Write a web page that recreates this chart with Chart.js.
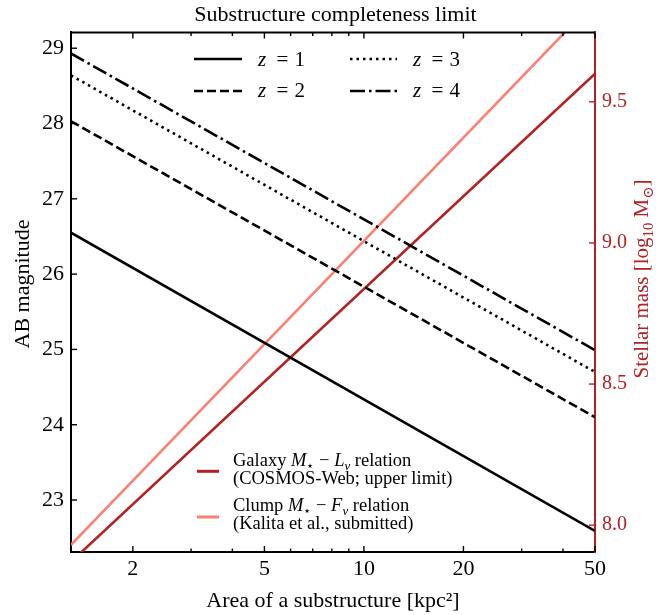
<!DOCTYPE html>
<html>
<head>
<meta charset="utf-8">
<script src="https://cdn.jsdelivr.net/npm/chart.js@4.4.1/dist/chart.umd.min.js"></script>
<style>
  html, body { margin: 0; padding: 0; background: #ffffff; }
  #wrap { width: 671px; height: 615px; }
</style>
</head>
<body>
<div id="wrap"><canvas id="c" width="671" height="615"></canvas></div>
<script>
// Substructure area (kpc^2) at the two ends of each straight relation on the log axis
const areaKpc2 = [1.3, 50];

// AB magnitude limit per redshift
const magZ1 = [26.55, 22.59];
const magZ2 = [28.03, 24.10];
const magZ3 = [28.64, 24.70];
const magZ4 = [28.93, 24.99];

// Stellar mass (log10 Msun) from the two mass-light relations
const massGalaxy = [7.87, 9.60];
const massClump = [7.93, 9.857];

// Tick values
const xLabeledTicks = [2, 5, 10, 20, 50];
const xMinorTicks = [3, 4, 6, 7, 8, 9, 30, 40];
const magTicks = [23, 24, 25, 26, 27, 28, 29];
const massTicks = [8.0, 8.5, 9.0, 9.5];

const redshiftLabels = ['1', '2', '3', '4'];

const SERIF = "'Liberation Serif', 'DejaVu Serif', serif";
const RED = '#b22222';
const SALMON = '#fa8072';
const LW = 2.6;

const pts = ys => areaKpc2.map((x, i) => ({ x: x, y: ys[i] }));

// measure / draw a run of text pieces: kinds 'r' regular, 'i' italic, 's' subscript, 'si' italic subscript
function runFont(kind, size) {
  const sub = kind[0] === 's';
  const italic = kind.indexOf('i') >= 0;
  return { font: (italic ? 'italic ' : '') + (sub ? size * 0.7 : size) + 'px ' + SERIF, dy: sub ? size * 0.22 : 0 };
}
function measureRuns(ctx, runs, size) {
  let w = 0;
  for (const [t, k] of runs) { ctx.font = runFont(k, size).font; w += ctx.measureText(t).width; }
  return w;
}
function drawRuns(ctx, runs, x, y, size) {
  let cx = x;
  for (const [t, k] of runs) {
    const f = runFont(k, size);
    ctx.font = f.font;
    ctx.fillText(t, cx, y + f.dy);
    cx += ctx.measureText(t).width;
  }
}

function strokeSample(ctx, ds, x0, x1, y) {
  ctx.save();
  ctx.strokeStyle = ds.borderColor;
  ctx.lineWidth = ds.borderWidth;
  ctx.lineCap = 'butt';
  ctx.setLineDash(ds.borderDash || []);
  ctx.beginPath();
  ctx.moveTo(x0, y);
  ctx.lineTo(x1, y);
  ctx.stroke();
  ctx.restore();
}

const decorations = {
  id: 'decorations',
  afterDatasetsDraw(chart) {
    const { ctx, chartArea: a, scales } = chart;
    const x = scales.x, y = scales.y, y1 = scales.y1;
    ctx.save();

    // top frame edge
    ctx.strokeStyle = '#000';
    ctx.lineWidth = 2;
    ctx.beginPath();
    ctx.moveTo(a.left - 1, a.top);
    ctx.lineTo(a.right, a.top);
    ctx.stroke();

    // inward tick marks
    ctx.lineWidth = 1.4;
    ctx.strokeStyle = '#000';
    x.ticks.forEach(t => {
      const px = x.getPixelForValue(t.value);
      const len = xLabeledTicks.includes(t.value) ? 6 : 3.5;
      ctx.beginPath();
      ctx.moveTo(px, a.bottom); ctx.lineTo(px, a.bottom - len);
      ctx.moveTo(px, a.top); ctx.lineTo(px, a.top + len);
      ctx.stroke();
    });
    y.ticks.forEach(t => {
      const py = y.getPixelForValue(t.value);
      ctx.beginPath();
      ctx.moveTo(a.left, py); ctx.lineTo(a.left + 6, py);
      ctx.stroke();
    });
    ctx.strokeStyle = RED;
    y1.ticks.forEach(t => {
      const py = y1.getPixelForValue(t.value);
      ctx.beginPath();
      ctx.moveTo(a.right, py); ctx.lineTo(a.right - 6, py);
      ctx.stroke();
    });

    // vertical axis titles (reading bottom to top)
    ctx.textBaseline = 'alphabetic';
    ctx.textAlign = 'left';
    ctx.fillStyle = '#000';
    const leftRuns = [['AB magnitude', 'r']];
    ctx.save();
    ctx.translate(28.5, 284);
    ctx.rotate(-Math.PI / 2);
    drawRuns(ctx, leftRuns, -measureRuns(ctx, leftRuns, 22) / 2, 0, 22);
    ctx.restore();

    const rightRuns = [['Stellar mass [log', 'r'], ['10', 's'], [' M', 'r'], ['\u2299', 's'], [']', 'r']];
    ctx.fillStyle = RED;
    ctx.save();
    ctx.translate(648, 279);
    ctx.rotate(-Math.PI / 2);
    drawRuns(ctx, rightRuns, -measureRuns(ctx, rightRuns, 21) / 2, 0, 21);
    ctx.restore();

    // redshift legend (two columns)
    const ds = chart.data.datasets;
    const cols = [{ x0: 194, x1: 242, tx: 258 }, { x0: 350, x1: 397, tx: 413 }];
    const rows = [{ ly: 59, by: 65.7 }, { ly: 91, by: 97.3 }];
    ctx.fillStyle = '#000';
    for (let i = 0; i < 4; i++) {
      const c = cols[Math.floor(i / 2)], r = rows[i % 2];
      strokeSample(ctx, ds[i], c.x0, c.x1, r.ly);
      drawRuns(ctx, [['z', 'i']], c.tx, r.by, 21);
      drawRuns(ctx, [['=', 'r']], c.tx + 18.5, r.by, 21);
      drawRuns(ctx, [[redshiftLabels[i], 'r']], c.tx + 36.5, r.by, 21);
    }

    // mass-relation legend
    const relLines = [
      { ds: ds[4], ly: 471.3, base: [466.3, 484],
        runs: [[['Galaxy ', 'r'], ['M', 'i'], ['\u22C6', 's'], [' \u2212 ', 'r'], ['L', 'i'], ['\u03BD', 'si'], [' relation', 'r']],
               [['(COSMOS-Web; upper limit)', 'r']]] },
      { ds: ds[5], ly: 517, base: [511.3, 529],
        runs: [[['Clump ', 'r'], ['M', 'i'], ['\u22C6', 's'], [' \u2212 ', 'r'], ['F', 'i'], ['\u03BD', 'si'], [' relation', 'r']],
               [['(Kalita et al., submitted)', 'r']]] }
    ];
    relLines.forEach(e => {
      strokeSample(ctx, { borderColor: e.ds.borderColor, borderWidth: 3, borderDash: [] }, 197, 219, e.ly);
      ctx.fillStyle = '#000';
      e.runs.forEach((r, k) => drawRuns(ctx, r, 233, e.base[k], 18.5));
    });

    ctx.restore();
  }
};

function build() {
  new Chart(document.getElementById('c'), {
    type: 'line',
    data: {
      datasets: [
        { label: 'z = 1', data: pts(magZ1), yAxisID: 'y', borderColor: '#000', borderWidth: LW, borderDash: [] },
        { label: 'z = 2', data: pts(magZ2), yAxisID: 'y', borderColor: '#000', borderWidth: LW, borderDash: [9, 4] },
        { label: 'z = 3', data: pts(magZ3), yAxisID: 'y', borderColor: '#000', borderWidth: LW, borderDash: [2.5, 4] },
        { label: 'z = 4', data: pts(magZ4), yAxisID: 'y', borderColor: '#000', borderWidth: LW, borderDash: [15, 4, 2.5, 4] },
        { label: 'Galaxy', data: pts(massGalaxy), yAxisID: 'y1', borderColor: RED, borderWidth: LW },
        { label: 'Clump', data: pts(massClump), yAxisID: 'y1', borderColor: SALMON, borderWidth: LW }
      ]
    },
    options: {
      responsive: false,
      animation: false,
      devicePixelRatio: 1,
      layout: { padding: 0 },
      elements: { point: { radius: 0 }, line: { tension: 0, borderCapStyle: 'butt', fill: false } },
      plugins: {
        legend: { display: false },
        tooltip: { enabled: false },
        title: {
          display: true,
          text: 'Substructure completeness limit',
          color: '#000',
          font: { family: SERIF, size: 22, weight: 'normal' },
          padding: { top: 2, bottom: 4 }
        }
      },
      scales: {
        x: {
          type: 'logarithmic', position: 'bottom', min: 1.3, max: 50, bounds: 'data',
          grid: { display: false, drawTicks: false },
          border: { display: true, color: '#000', width: 2 },
          ticks: {
            color: '#000', font: { family: SERIF, size: 22 }, padding: 4,
            autoSkip: false, maxRotation: 0, minRotation: 0,
            callback: v => (xLabeledTicks.includes(v) ? String(v) : '')
          },
          afterBuildTicks: s => {
            s.ticks = xLabeledTicks.concat(xMinorTicks).sort((p, q) => p - q).map(v => ({ value: v }));
          },
          afterFit: s => { s.height = 63; },
          title: {
            display: true, text: 'Area of a substructure [kpc\u00B2]', color: '#000',
            font: { family: SERIF, size: 22 }, padding: { top: 0, bottom: 1 }
          }
        },
        y: {
          type: 'linear', position: 'left', min: 22.31, max: 29.21, bounds: 'data',
          grid: { display: false, drawTicks: false },
          border: { display: true, color: '#000', width: 2 },
          ticks: { color: '#000', font: { family: SERIF, size: 22 }, padding: 7, callback: v => String(v) },
          afterBuildTicks: s => { s.ticks = magTicks.map(v => ({ value: v })); },
          afterFit: s => { s.width = 71; }
        },
        y1: {
          type: 'linear', position: 'right', min: 7.905, max: 9.746, bounds: 'data',
          grid: { display: false, drawTicks: false },
          border: { display: true, color: RED, width: 2 },
          ticks: { color: RED, font: { family: SERIF, size: 20 }, padding: 7, callback: v => v.toFixed(1) },
          afterBuildTicks: s => { s.ticks = massTicks.map(v => ({ value: v })); },
          afterFit: s => { s.width = 76; }
        }
      }
    },
    plugins: [decorations]
  });
}

Promise.all([
  document.fonts.load("22px 'Liberation Serif'"),
  document.fonts.load("italic 22px 'Liberation Serif'")
]).then(build, build);
</script>
</body>
</html>
